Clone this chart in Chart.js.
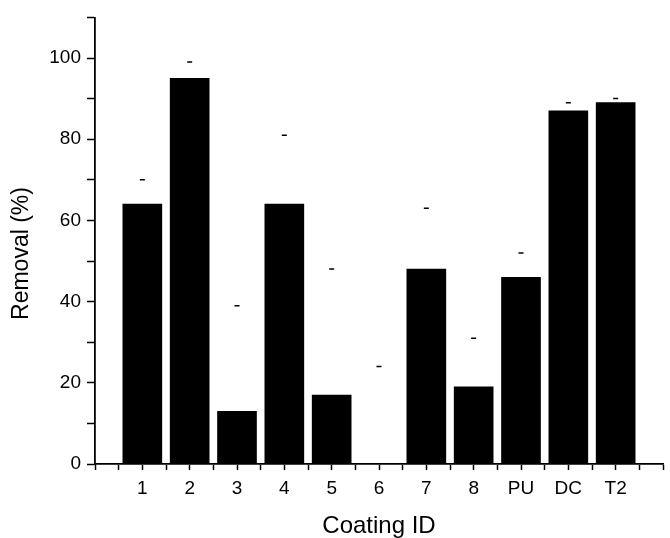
<!DOCTYPE html>
<html>
<head>
<meta charset="utf-8">
<script src="https://cdn.jsdelivr.net/npm/chart.js@4"></script>
<style>
  html, body { margin: 0; padding: 0; background: #fff; }
  #wrap { width: 670px; height: 538px; }
</style>
</head>
<body>
<div id="wrap"><canvas id="removalChart" width="670" height="538"></canvas></div>
<script>
// values
const coatings = ['1', '2', '3', '4', '5', '6', '7', '8', 'PU', 'DC', 'T2'];
const removal = [64, 95, 13, 64, 17, 0, 48, 19, 46, 87, 89];
const errorTop = [70, 99, 39, 81, 48, 24, 63, 31, 52, 89, 90];
const yTicks = [0, 20, 40, 60, 80, 100];

const font = 'Liberation Sans, Arial, Helvetica, sans-serif';

const ctx = document.getElementById('removalChart').getContext('2d');
new Chart(ctx, {
    type: 'bar',
    data: {
        datasets: [{
            label: 'Removal',
            data: coatings.map((c, i) => ({ x: i, y: removal[i] })),
            backgroundColor: '#000',
            borderWidth: 0,
            barThickness: 39,
            order: 2
        }, {
            // upper error caps only
            type: 'scatter',
            label: 'Error',
            data: coatings.map((c, i) => ({ x: i, y: errorTop[i] })),
            pointStyle: 'line',
            radius: 2.5,
            borderColor: '#000',
            borderWidth: 1.5,
            order: 1
        }]
    },
    options: {
        responsive: false,
        animation: false,
        layout: { padding: { top: 13, right: 2, left: 0, bottom: 0 } },
        plugins: {
            legend: { display: false },
            tooltip: { enabled: false }
        },
        scales: {
            x: {
                type: 'linear',
                min: -1,
                max: 11,
                offset: false,
                afterFit: (scale) => { scale.height = 74; },
                afterBuildTicks: (scale) => {
                    const t = [];
                    for (let v = -1; v <= 11; v += 0.5) t.push({ value: v });
                    scale.ticks = t;
                },
                ticks: {
                    autoSkip: false,
                    maxRotation: 0,
                    padding: 7,
                    color: '#000',
                    font: { family: font, size: 19 },
                    callback: (v) => (Number.isInteger(v) && v >= 0 && v < coatings.length) ? coatings[v] : ''
                },
                grid: {
                    offset: false,
                    drawOnChartArea: false,
                    tickLength: 6,
                    tickColor: '#000',
                    tickWidth: 1.5
                },
                border: { color: '#000', width: 1.8 },
                title: {
                    display: true,
                    text: 'Coating ID',
                    color: '#000',
                    font: { family: font, size: 24, lineHeight: 1 },
                    padding: { top: 0, bottom: 0 }
                }
            },
            y: {
                min: 0,
                max: 110,
                afterFit: (scale) => { scale.width = 95; },
                afterBuildTicks: (scale) => {
                    const t = [];
                    for (let v = 0; v <= 110; v += 10) t.push({ value: v });
                    scale.ticks = t;
                },
                ticks: {
                    autoSkip: false,
                    padding: 6,
                    color: '#000',
                    font: { family: font, size: 19 },
                    callback: (v) => yTicks.includes(v) ? String(v) : ''
                },
                grid: {
                    drawOnChartArea: false,
                    tickLength: 8,
                    tickColor: '#000',
                    tickWidth: 1.5
                },
                border: { color: '#000', width: 1.8 },
                title: {
                    display: true,
                    text: 'Removal (%)    ',
                    color: '#000',
                    font: { family: font, size: 23, lineHeight: 1 },
                    padding: { top: 10, bottom: 0 }
                }
            }
        }
    }
});
</script>
</body>
</html>
